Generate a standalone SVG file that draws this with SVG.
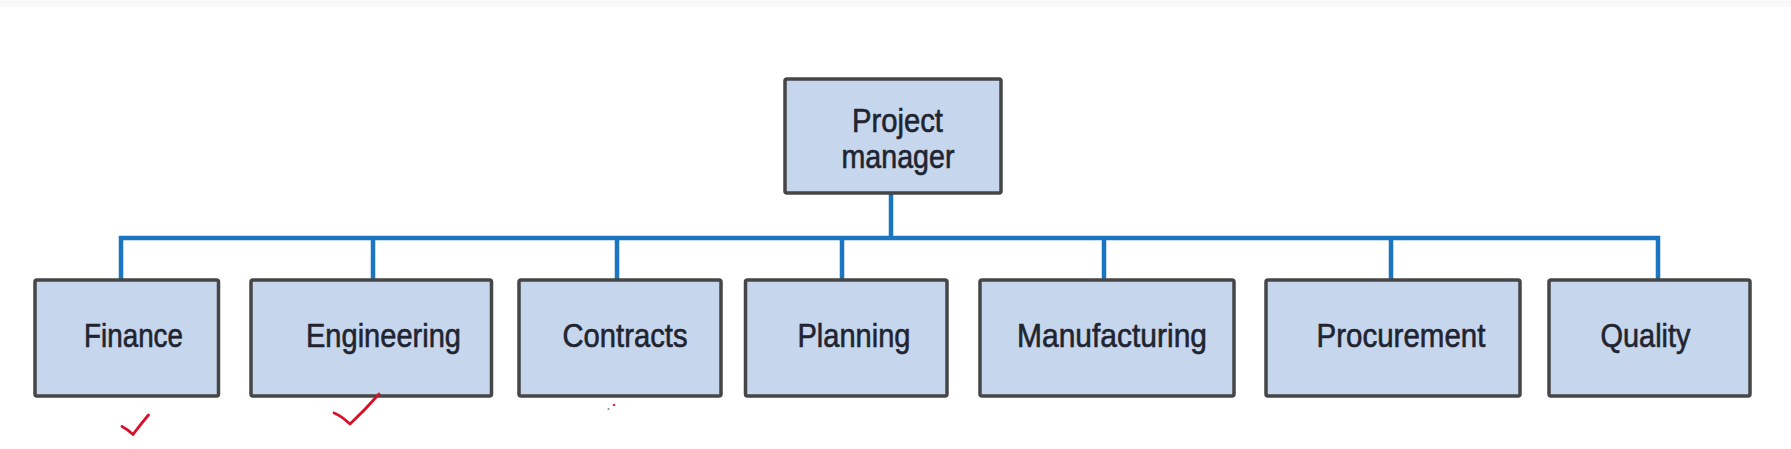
<svg xmlns="http://www.w3.org/2000/svg" width="1791" height="449" viewBox="0 0 1791 449">
<style>
.box{fill:#c6d6ed;stroke:#464646;stroke-width:3.5}
.lbl{font-family:"Liberation Sans",Arial,sans-serif;font-size:33px;fill:#1f2430;stroke:#1f2430;stroke-width:0.6;text-anchor:middle}
.con{fill:none;stroke:#1a76c0;stroke-width:4.5}
.chk{fill:none;stroke:#d8102a;stroke-width:2.8;stroke-linecap:round;stroke-linejoin:round}
</style>
<rect x="0" y="0" width="1791" height="449" fill="#ffffff"/>
<rect x="0" y="0" width="1791" height="7" fill="#f9f9f9"/>
<g id="connectors">
<path class="con" d="M891 193V238M121 280V238H1658V280M373 238V280M617 238V280M842 238V280M1104 238V280M1391 238V280"/>
</g>
<g id="project-manager">
<rect class="box" x="785" y="79" width="216" height="114" rx="2"/>
<text class="lbl" x="897.5" y="132" textLength="91" lengthAdjust="spacingAndGlyphs">Project</text>
<text class="lbl" x="898" y="168" textLength="113" lengthAdjust="spacingAndGlyphs">manager</text>
</g>
<g id="finance">
<rect class="box" x="35" y="280" width="183.5" height="116" rx="2"/>
<text class="lbl" x="133.5" y="347" textLength="99" lengthAdjust="spacingAndGlyphs">Finance</text>
</g>
<g id="engineering">
<rect class="box" x="251" y="280" width="240.5" height="116" rx="2"/>
<text class="lbl" x="383.5" y="347" textLength="155" lengthAdjust="spacingAndGlyphs">Engineering</text>
</g>
<g id="contracts">
<rect class="box" x="519" y="280" width="202" height="116" rx="2"/>
<text class="lbl" x="625" y="347" textLength="125" lengthAdjust="spacingAndGlyphs">Contracts</text>
</g>
<g id="planning">
<rect class="box" x="745.5" y="280" width="201.5" height="116" rx="2"/>
<text class="lbl" x="854" y="347" textLength="113" lengthAdjust="spacingAndGlyphs">Planning</text>
</g>
<g id="manufacturing">
<rect class="box" x="980" y="280" width="254" height="116" rx="2"/>
<text class="lbl" x="1112" y="347" textLength="190" lengthAdjust="spacingAndGlyphs">Manufacturing</text>
</g>
<g id="procurement">
<rect class="box" x="1266" y="280" width="254" height="116" rx="2"/>
<text class="lbl" x="1401" y="347" textLength="169" lengthAdjust="spacingAndGlyphs">Procurement</text>
</g>
<g id="quality">
<rect class="box" x="1549" y="280" width="201" height="116" rx="2"/>
<text class="lbl" x="1645.5" y="347" textLength="90" lengthAdjust="spacingAndGlyphs">Quality</text>
</g>
<g id="marks">
<path class="chk" d="M122 426.5Q127 429 133 434.5Q140 425 148.5 415"/>
<path class="chk" d="M334 413Q340 415 350 424Q365 410 379 394"/>
<circle cx="614" cy="405" r="1.3" fill="#e0304a"/>
<circle cx="608.5" cy="409" r="1" fill="#888888"/>
</g>
</svg>
